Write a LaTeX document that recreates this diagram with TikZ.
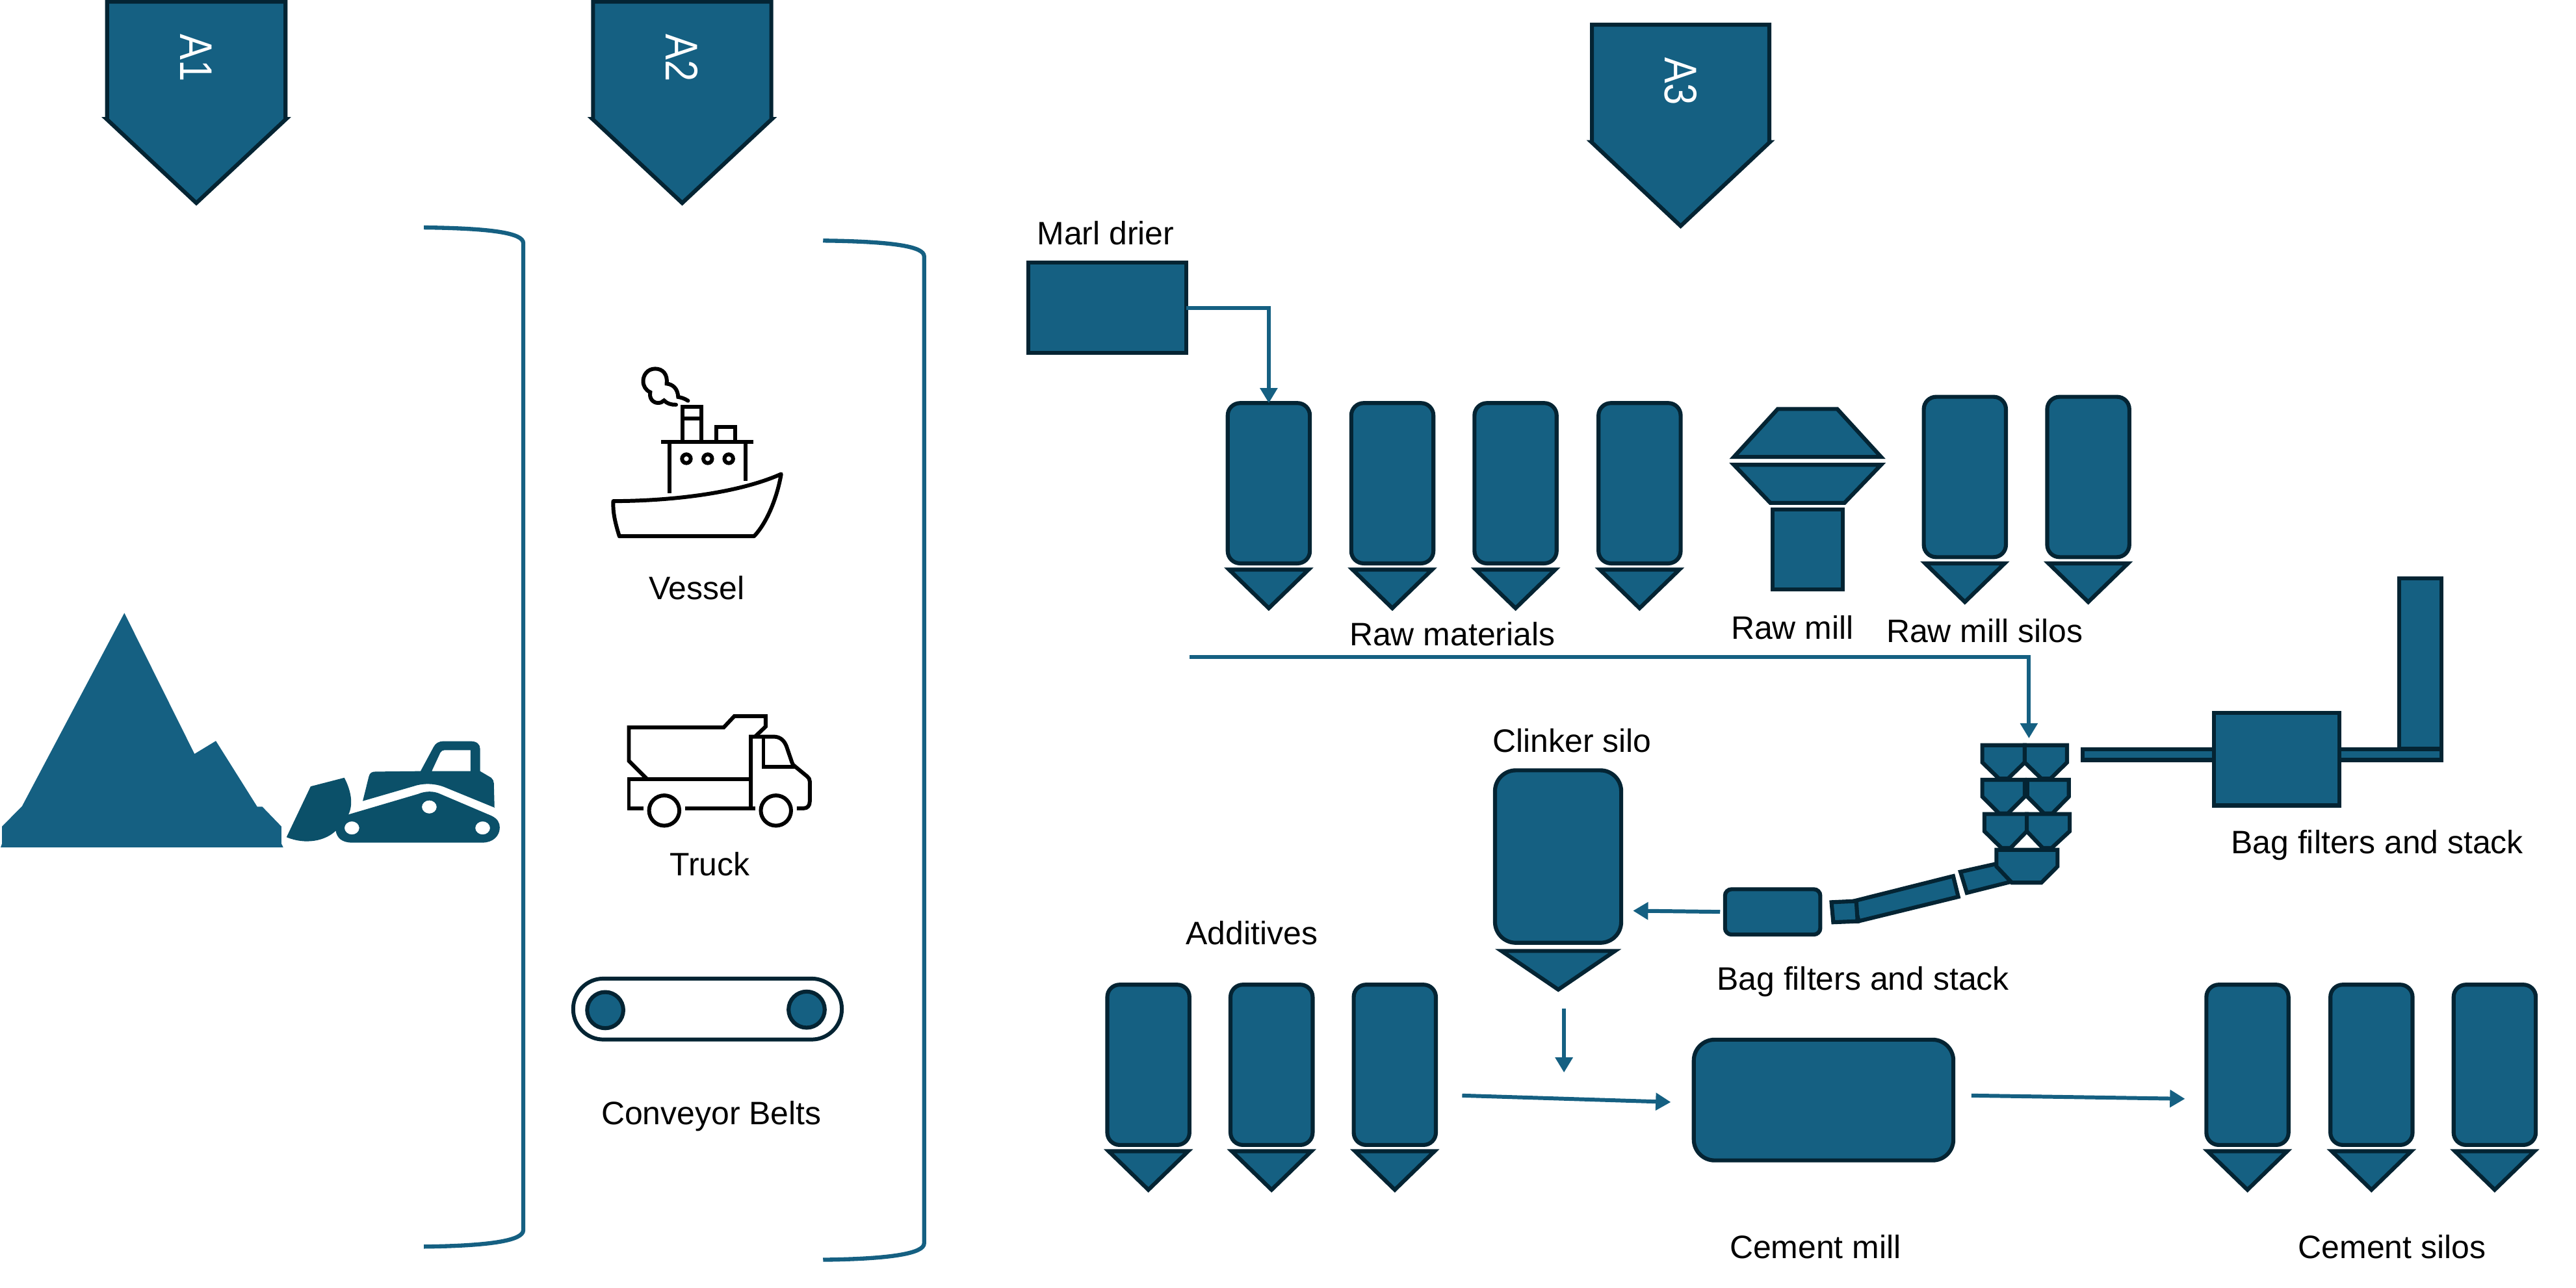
\documentclass[tikz,border=0pt]{standalone}
\usepackage{fontspec}
\setmainfont{Liberation Sans}
\usetikzlibrary{arrows.meta}
\definecolor{teal1}{HTML}{156082}
\definecolor{dark1}{HTML}{042433}
\definecolor{doz}{HTML}{0B5069}
\def\uu{0.025274cm}
\tikzset{
  x=\uu, y=-\uu,
  eqp/.style={draw=dark1,fill=teal1,line width=1.75pt,line join=miter},
  silo/.style={eqp,rectangle,rounded corners=0.19cm,inner sep=0pt,outer sep=0pt,minimum width=50*\uu,minimum height=97.6*\uu},
  boxn/.style={eqp,rectangle,inner sep=0pt,outer sep=0pt},
  lab/.style={inner sep=0pt,font=\fontsize{14.2}{16}\selectfont,text=black},
  tag/.style={inner sep=0pt,rotate=-90,font=\fontsize{20}{22}\selectfont\addfontfeature{FakeStretch=0.85},text=white},
  flow/.style={draw=teal1,line width=1.7pt,-{Triangle[length=6.6pt,width=7.4pt]}},
  brk/.style={draw=teal1,line width=1.8pt},
  icon/.style={draw=black,line width=1.7pt},
}
\newcommand\silounit[3]{%
  \node[silo,anchor=north] (#1) at (#2,#3) {};
  \draw[eqp] (#2-24.2,#3+101.4) -- (#2+24.2,#3+101.4) -- (#2,#3+124.9) -- cycle;
}
\newcommand\penta[4]{% name, left, right, top
  \draw[eqp] (#2,#4) -- (#3,#4) -- (#3,#4+71.5) -- (#3+0.3,#4+71.5) -- ({(#2+#3)/2},#4+122.6) -- (#2-0.3,#4+71.5) -- (#2,#4+71.5) -- cycle;
  \node[tag] (#1) at ({(#2+#3)/2},#4+34.4) {#1};
}
\begin{document}
\begin{tikzpicture}
\useasboundingbox (0,0) rectangle (1568,783.8);
% tags
\penta{A1}{65.2}{173.8}{1}
\penta{A2}{361}{469.5}{1}
\penta{A3}{969}{1077}{15}
% brackets
\draw[brk] (258,138.5) .. controls (300,139) and (318.5,142) .. (318.5,148) -- (318.5,749) .. controls (318.5,755) and (300,758.5) .. (258,759);
\draw[brk] (501,146.5) .. controls (543,147) and (562.5,150) .. (562.5,156) -- (562.5,757) .. controls (562.5,763) and (543,766.5) .. (501,767);
% mountain
\fill[teal1] (0.4,515.9) -- (1.2,513.7) -- (1.2,503.2) -- (13.4,490.9) -- (75.7,373.2) -- (118.4,459) -- (131.4,451.1) -- (156.6,491.2) -- (159.7,491.2) -- (171.3,503.2) -- (171.3,513.7) -- (172.4,515.9) -- cycle;
% bulldozer
\fill[doz,even odd rule] (174.4,509.7) -- (189.1,478.8) -- (209.6,473.5) .. controls (214,482) and (215,490) .. (212.1,495.9) -- (254.5,483.4) .. controls (259,481.5) and (264,481.5) .. (268,483.4) -- (299,496.6) .. controls (303,498.5) and (304.2,501) .. (304.2,503.8) .. controls (304.2,509) and (300,513) .. (293.8,513) -- (214.2,513) .. controls (208,513) and (205,510) .. (204.4,505.8) .. controls (198,512) and (186,514.5) .. (174.4,509.7) -- cycle
 (214.2,504.1) ellipse [x radius=4.5,y radius=4]
 (261.3,491.3) ellipse [x radius=4.5,y radius=4]
 (293.8,504.1) ellipse [x radius=4.5,y radius=4];
\fill[doz,even odd rule] (220.8,487.7) -- (224.5,472.8) .. controls (225,470.5) and (226.5,469.8) .. (228.6,469.8) -- (256,469.5) -- (263.8,455) .. controls (265,452.5) and (267,451.3) .. (270,451.3) -- (286.6,451.3) .. controls (290,451.3) and (292.2,453) .. (292.2,455.7) -- (292.2,469.5) -- (299,473.5) .. controls (300,474.5) and (300.6,475.5) .. (300.6,476.8) -- (301,491.7) -- (270,479) .. controls (264,476.8) and (257,476.8) .. (251.4,478.8) -- cycle
 (262.8,469.5) -- (268,458.3) .. controls (268.5,457.3) and (269.5,456.7) .. (270.6,456.7) -- (286.4,456.7) -- (286.4,469.5) -- cycle;
% vessel
\draw[icon,line join=round] (373.3,305.1) .. controls (410,305) and (450,300) .. (475.5,288.6) .. controls (473,303) and (467,318) .. (459,326.5) -- (377,326.5) .. controls (374,317) and (373,311) .. (373.3,305.1) -- cycle;
\draw[icon] (402.5,269.1) -- (458.7,269.1);
\draw[icon] (407.6,269.1) -- (407.6,300.1);
\draw[icon] (453.7,269.1) -- (453.7,292.6);
\draw[icon] (417.8,279.3) circle[radius=2.65];
\draw[icon] (430.8,279.3) circle[radius=2.65];
\draw[icon] (443.6,279.3) circle[radius=2.65];
\draw[icon] (415.3,269.1) -- (415.3,247.6) -- (426.9,247.6) -- (426.9,269.1);
\draw[icon] (415.3,254.9) -- (426.9,254.9);
\draw[icon] (435.9,269.1) -- (435.9,260.1) -- (447.4,260.1) -- (447.4,269.1);
\draw[icon,line cap=round] (418.8,244) .. controls (416.5,242.5) and (414.5,242) .. (412.8,241.7) .. controls (412.5,236.5) and (409.5,234) .. (405.8,233.6) .. controls (406.5,228) and (403.5,224.5) .. (398.8,224.5) .. controls (394,224.5) and (391.5,228.5) .. (391.5,232) .. controls (391.5,235) and (393,237.5) .. (395.8,238.8) .. controls (395,242.5) and (397.5,245.3) .. (400.5,245.3) .. controls (402,245.3) and (403.3,244.8) .. (404.2,243.8) .. controls (406,245.7) and (408.5,246.5) .. (411.5,246.4);
% truck
\draw[icon] (459.6,448.5) -- (466,442.4) -- (466,436.1) -- (446.9,436.1) -- (440.5,442.9) -- (382.8,442.9) -- (382.8,463.3) -- (393.7,474.2);
\draw[icon] (391.7,492.1) -- (382.8,492.1) -- (382.8,474.2) -- (457,474.2);
\draw[icon] (417,492.1) -- (459.6,492.1);
\draw[icon] (457,492.1) -- (457,448.5) -- (470.9,448.5) .. controls (475,448.5) and (477.5,451) .. (478.8,454.6) -- (482,464) .. controls (482.5,465.5) and (483,466) .. (484,466.7) -- (491.3,472.7) .. controls (492.3,473.5) and (492.9,474.5) .. (492.9,475.7) -- (492.9,487.9) .. controls (492.9,490.5) and (491.5,492.1) .. (489.3,492.1) -- (485,492.1);
\draw[icon] (464.7,448.5) -- (464.7,466.7) -- (484,466.7);
\draw[icon] (404.3,493.5) circle[radius=9.2];
\draw[icon] (472.3,493.5) circle[radius=9.2];
% conveyor
\draw[draw=dark1,line width=1.7pt,rounded corners=0.465cm] (348.9,595.8) rectangle (512.4,632.9);
\draw[eqp] (368.4,615) circle[radius=11];
\draw[eqp] (491,614.7) circle[radius=11];
% A3 process
\node[boxn,anchor=north west,minimum width=96*\uu,minimum height=55*\uu] (marl) at (626,160) {};
\silounit{rm1}{772.3}{245.4}
\silounit{rm2}{847.5}{245.4}
\silounit{rm3}{922.5}{245.4}
\silounit{rm4}{998}{245.4}
\draw[eqp] (1082.1,249) -- (1118.3,249) -- (1145,278.2) -- (1055.4,278.2) -- cycle;
\draw[eqp] (1055.4,283) -- (1145,283) -- (1122.7,306.2) -- (1077.6,306.2) -- cycle;
\node[boxn,anchor=north west,minimum width=42.9*\uu,minimum height=48.4*\uu] (millbase) at (1078.9,310.3) {};
\silounit{rs1}{1196}{241.6}
\silounit{rs2}{1271.1}{241.6}
% preheater stack
\node[boxn,anchor=north west,minimum width=25.8*\uu,minimum height=103.5*\uu] (stack) at (1460.4,352.2) {};
\node[boxn,anchor=north west,minimum width=218.4*\uu,minimum height=6.4*\uu] (stackduct) at (1267.8,456.3) {};
\node[boxn,anchor=north west,minimum width=76.3*\uu,minimum height=56.5*\uu] (bagone) at (1347.7,433.9) {};
\draw[eqp] (1206.6,453.7) -- (1232.4,453.7) -- (1232.4,464.2) -- (1222.2,474.1) -- (1216.8,474.1) -- (1206.6,464.2) -- cycle;
\draw[eqp] (1232.4,453.7) -- (1258.2,453.7) -- (1258.2,464.2) -- (1248.1,474.1) -- (1242.6,474.1) -- (1232.4,464.2) -- cycle;
\draw[eqp] (1206.6,474.8) -- (1232.4,474.8) -- (1232.4,485) -- (1222.2,495.2) -- (1216.8,495.2) -- (1206.6,485) -- cycle;
\draw[eqp] (1234,474.8) -- (1259.3,474.8) -- (1259.3,485) -- (1249.3,495.2) -- (1244.1,495.2) -- (1234,485) -- cycle;
\draw[eqp] (1207.9,495.6) -- (1233.7,495.6) -- (1233.7,506.1) -- (1223.8,516.3) -- (1218.3,516.3) -- (1207.9,506.1) -- cycle;
\draw[eqp] (1233.7,495.6) -- (1259.8,495.6) -- (1259.8,506.1) -- (1248.8,516.3) -- (1243.4,516.3) -- (1233.7,506.1) -- cycle;
\draw[eqp] (1193.3,530.8) -- (1215.2,525.9) -- (1224.6,536.7) -- (1197.2,543.6) -- cycle;
\draw[eqp] (1215.2,517.4) -- (1252.4,517.4) -- (1252.4,527.5) -- (1242.6,537.4) -- (1224.6,537.4) -- (1215.2,527.5) -- cycle;
\draw[eqp] (1128.4,548.6) -- (1188.9,533.4) -- (1192,546) -- (1131.5,560.8) .. controls (1130,556) and (1129,552) .. (1128.4,548.6) -- cycle;
\draw[eqp] (1114.8,549.3) -- (1129.9,548.6) -- (1130.7,560.9) -- (1115.9,561.5) -- cycle;
\node[boxn,rounded corners=0.1cm,anchor=north west,minimum width=58*\uu,minimum height=27.6*\uu] (bagtwo) at (1050,541.4) {};
% clinker, additives, mill, cement silos
\node[silo,rounded corners=0.32cm,anchor=north west,minimum width=76.8*\uu,minimum height=105*\uu] (clinker) at (910,469) {};
\draw[eqp] (914,579) -- (983,579) -- (948.5,602.5) -- cycle;
\silounit{ad1}{699}{599.5}
\silounit{ad2}{774}{599.5}
\silounit{ad3}{849}{599.5}
\node[silo,rounded corners=0.32cm,anchor=north west,minimum width=158*\uu,minimum height=73.5*\uu] (mill) at (1031,633) {};
\silounit{cs1}{1368}{599.5}
\silounit{cs2}{1443.5}{599.5}
\silounit{cs3}{1518.5}{599.5}
% connectors
\coordinate (rawstart) at (724,400);
\coordinate (cycin) at (1235,449.5);
\coordinate (clinkin) at (994,554.5);
\coordinate (clinkout) at (952,614);
\coordinate (clinkdown) at (952,653);
\coordinate (addout) at (890,667);
\coordinate (millin) at (1017,671);
\coordinate (millout) at (1200,667);
\coordinate (silosin) at (1330,669);
\draw[flow] (marl.east) -| (rm1.north);
\draw[flow] (rawstart) -| (cycin);
\draw[flow,shorten <=3*\uu] (bagtwo.west) -- (clinkin);
\draw[flow] (clinkout) -- (clinkdown);
\draw[flow] (addout) -- (millin);
\draw[flow] (millout) -- (silosin);
% labels
\node[lab] (t1) at (673,142) {Marl drier};
\node[lab] (t2) at (884,386) {Raw materials};
\node[lab] (t3) at (1091,382) {Raw mill};
\node[lab] (t4) at (1208,384) {Raw mill silos};
\node[lab] (t5) at (424,358) {Vessel};
\node[lab] (t6) at (432,526) {Truck};
\node[lab] (t7) at (433,679.5) {Conveyor Belts};
\node[lab] (t8) at (957,451) {Clinker silo};
\node[lab] (t9) at (1447,514.5) {Bag filters and stack};
\node[lab] (t10) at (1134,597.5) {Bag filters and stack};
\node[lab] (t11) at (762,568) {Additives};
\node[lab] (t12) at (1105,759) {Cement mill};
\node[lab] (t13) at (1456,759) {Cement silos};
\end{tikzpicture}
\end{document}
